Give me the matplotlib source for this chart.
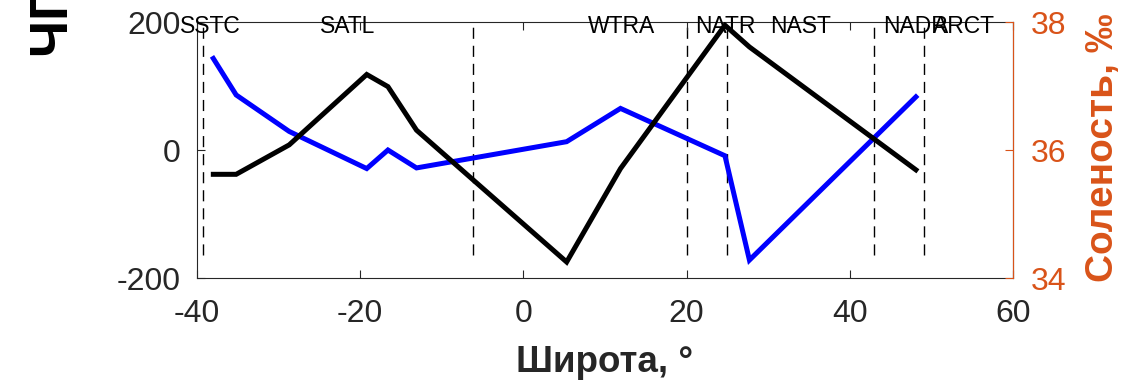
import matplotlib
matplotlib.use("Agg")
import matplotlib.pyplot as plt

plt.rcParams['font.family'] = ['Liberation Sans', 'DejaVu Sans']

# Data
lat = [-38.0, -35.2, -28.7, -19.2, -16.6, -13.1, 5.3, 11.9, 24.7, 27.7, 48.1]
chgp = [143, 86, 29, -29, 0, -28, 13, 65, -9, -172, 83]
salinity = [35.62, 35.62, 36.08, 37.18, 36.99, 36.31, 34.25, 35.71, 37.95, 37.61, 35.69]
boundaries = [-39.3, -6.2, 20.0, 25.0, 43.0, 49.1]
provinces = ['SSTC', 'SATL', 'WTRA', 'NATR', 'NAST', 'NADR', 'ARCT']
province_x = [-38.4, -21.5, 12.0, 24.7, 34.0, 48.0, 54.0]
xticks = [-40, -20, 0, 20, 40, 60]
yticks_left = [-200, 0, 200]
yticks_right = [34, 36, 38]

orange = '#D95319'
dark = '#262626'

fig = plt.figure(figsize=(11.33, 3.86), dpi=100)
ax = fig.add_axes([197/1133, 1 - 278/386, (1013-197)/1133, (278-22)/386])
ax2 = ax.twinx()

ax.set_xlim(-40, 60)
ax.set_ylim(-200, 200)
ax2.set_ylim(34, 38)

for b in boundaries:
    ax.plot([b, b], [-164, 198], color='black', lw=1.0, ls=(0, (8, 5)), zorder=1)

ax.plot(lat, chgp, color='#0000FF', lw=3.6, zorder=3, solid_joinstyle='miter')
ax2.plot(lat, salinity, color='black', lw=3.6, zorder=3, solid_joinstyle='miter')

for name, px in zip(provinces, province_x):
    ax.text(px, 183, name, ha='center', va='baseline', fontsize=16.5, color='black', zorder=5)

ax.set_xticks(xticks)
ax.set_yticks(yticks_left)
ax.set_yticklabels([str(v) for v in yticks_left])
ax.set_xticklabels([str(v) for v in xticks])
ax2.set_yticks(yticks_right)

ax.tick_params(axis='both', direction='in', length=6, width=0.8, labelsize=23,
               colors=dark, top=True)
ax.tick_params(axis='x', pad=15)
ax.tick_params(axis='y', pad=12)
ax2.tick_params(axis='y', direction='in', length=6, width=0.8, labelsize=23,
                colors=orange, pad=12.5)

for s in ['left', 'bottom', 'top']:
    ax.spines[s].set_color(dark)
    ax.spines[s].set_linewidth(0.8)
ax2.spines['right'].set_color(orange)
ax2.spines['right'].set_linewidth(0.8)
ax2.spines['left'].set_visible(False)
ax2.spines['top'].set_visible(False)
ax2.spines['bottom'].set_visible(False)

ax.set_xlabel('Широта, °', fontsize=26.5, fontweight='bold', color=dark, labelpad=12)
ax2.set_ylabel('Соленость, ‰', fontsize=28, fontweight='bold', color=orange)
ax2.yaxis.set_label_coords(1.088, 0.51)

fig.text(54/1133, 1 - 57/386, 'ЧГП, мг С/м²/сут', rotation=90, ha='center', va='bottom',
         fontsize=38, fontweight='bold', color='black')

fig.savefig('out.png', dpi=100)
